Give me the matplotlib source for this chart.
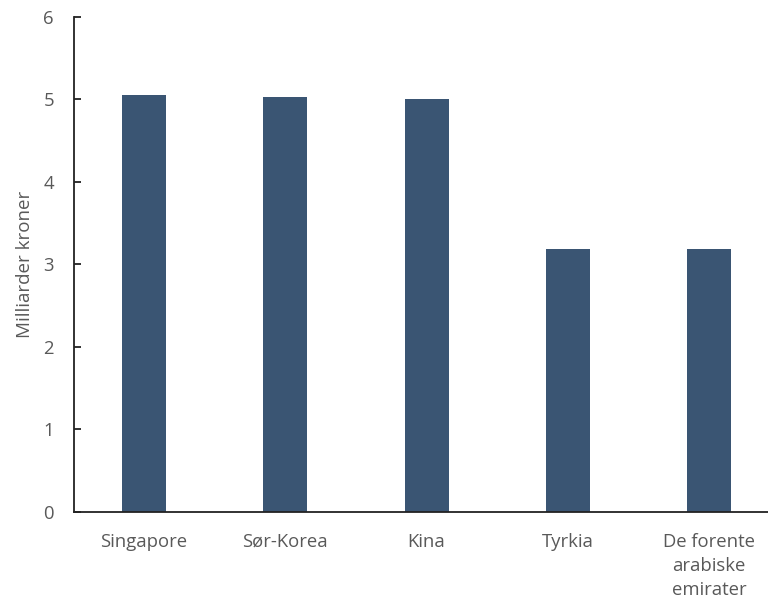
import matplotlib
matplotlib.use("Agg")
import matplotlib.pyplot as plt

categories = ["Singapore", "Sør-Korea", "Kina", "Tyrkia", "De forente\narabiske\nemirater"]
values = [5.06, 5.03, 5.01, 3.19, 3.19]
yticks = [0, 1, 2, 3, 4, 5, 6]

plt.rcParams['font.family'] = ['Open Sans', 'DejaVu Sans']

fig = plt.figure(figsize=(7.68, 5.99), dpi=100)
ax = fig.add_axes([73.5/768, 87.3/599, (779.6-73.5)/768, (511.7-17)/599])

x = list(range(len(categories)))
ax.bar(x, values, width=0.312, color="#3A5573")
ax.set_xlim(-0.5, len(categories) - 0.5)
ax.set_ylim(0, 6)
ax.set_yticks(yticks)
ax.set_xticks(x)
ax.set_xticklabels(categories, linespacing=1.45)

for s in ["top", "right"]:
    ax.spines[s].set_visible(False)
for s in ["left", "bottom"]:
    ax.spines[s].set_color("#222222")
    ax.spines[s].set_linewidth(1.3)

ax.tick_params(axis="y", direction="in", length=5, width=1.3, color="#222222",
               labelsize=13.3, labelcolor="#595959", pad=14)
ax.tick_params(axis="x", length=0, labelsize=13.3, labelcolor="#595959", pad=15)
ax.set_ylabel("Milliarder kroner", fontsize=13.5, color="#595959", labelpad=7)

fig.savefig("out.png", dpi=100)
